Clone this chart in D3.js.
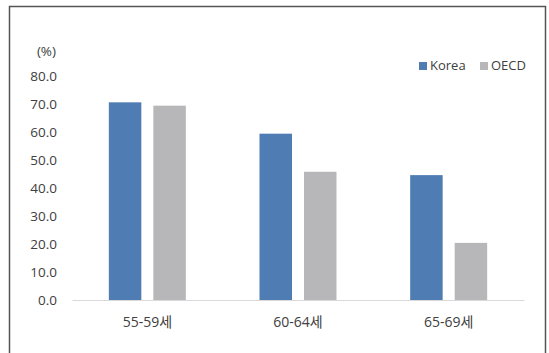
<!DOCTYPE html>
<html><head><meta charset="utf-8">
<script src="https://cdn.jsdelivr.net/npm/d3@7"></script>
<style>body{margin:0;background:#fff}svg{display:block}text{font-family:"Open Sans","Noto Sans CJK KR",sans-serif;fill:#404040}</style>
</head><body><svg id="c" width="549" height="353"></svg>
<script>
const categories = ["55-59세", "60-64세", "65-69세"];
const seriesNames = ["Korea", "OECD"];
const korea = [70.6, 59.4, 44.6];
const oecd = [69.4, 45.8, 20.4];
const yTicks = [0, 10, 20, 30, 40, 50, 60, 70, 80];
const colors = ["#4f7db3", "#b7b7b9"];
const FONT = '"Open Sans","Noto Sans CJK KR",sans-serif';

const svg = d3.select("#c");
const x = d3.scaleBand().domain(categories).range([72, 524]).paddingInner(0).paddingOuter(0);
const x1 = d3.scaleBand().domain(seriesNames).range([0, 77]).paddingInner(0.27);
const y = d3.scaleLinear().domain([0, 80]).range([300, 76]);

// frame
svg.append("path").attr("d", "M9.5,360 V6.5 H545.5 V360").attr("fill", "none").attr("stroke", "#555").attr("stroke-width", 1.5);

// y labels
const ya = svg.append("g").attr("transform", "translate(57,0)")
  .call(d3.axisLeft(y).tickValues(yTicks).tickSize(0).tickPadding(0).tickFormat(d3.format(".1f")));
ya.select(".domain").remove();
ya.selectAll("text").attr("font-size", 13.5).attr("fill", "#404040").style("font-family", FONT);
svg.append("text").attr("x", 56).attr("y", 52).attr("text-anchor", "end").attr("dominant-baseline", "middle").attr("font-size", 13.5).text("(%)");

// bars
const data = categories.map((c, i) => ({c, vals: [korea[i], oecd[i]]}));
const g = svg.append("g");
data.forEach(d => {
  d.vals.forEach((v, j) => {
    g.append("rect")
      .attr("x", x(d.c) + (x.bandwidth() - 77) / 2 + x1(seriesNames[j]))
      .attr("width", x1.bandwidth())
      .attr("y", y(v)).attr("height", y(0) - y(v))
      .attr("fill", colors[j]);
  });
});

// x axis
const xa = svg.append("g").attr("transform", "translate(0,300)")
  .call(d3.axisBottom(x).tickSize(0).tickPadding(17));
xa.select(".domain").attr("stroke", "#d9d9d9").attr("stroke-width", 1.2);
xa.selectAll("text").attr("font-size", 14).attr("fill", "#404040").style("font-family", FONT);

// legend
const leg = [{n: "Korea", x: 419}, {n: "OECD", x: 480}];
leg.forEach((l, i) => {
  svg.append("rect").attr("x", l.x).attr("y", 62).attr("width", 8).attr("height", 8).attr("fill", colors[i]);
  svg.append("text").attr("x", l.x + 11).attr("y", 66.5).attr("dominant-baseline", "middle").attr("font-size", 13).text(l.n);
});
</script></body></html>
